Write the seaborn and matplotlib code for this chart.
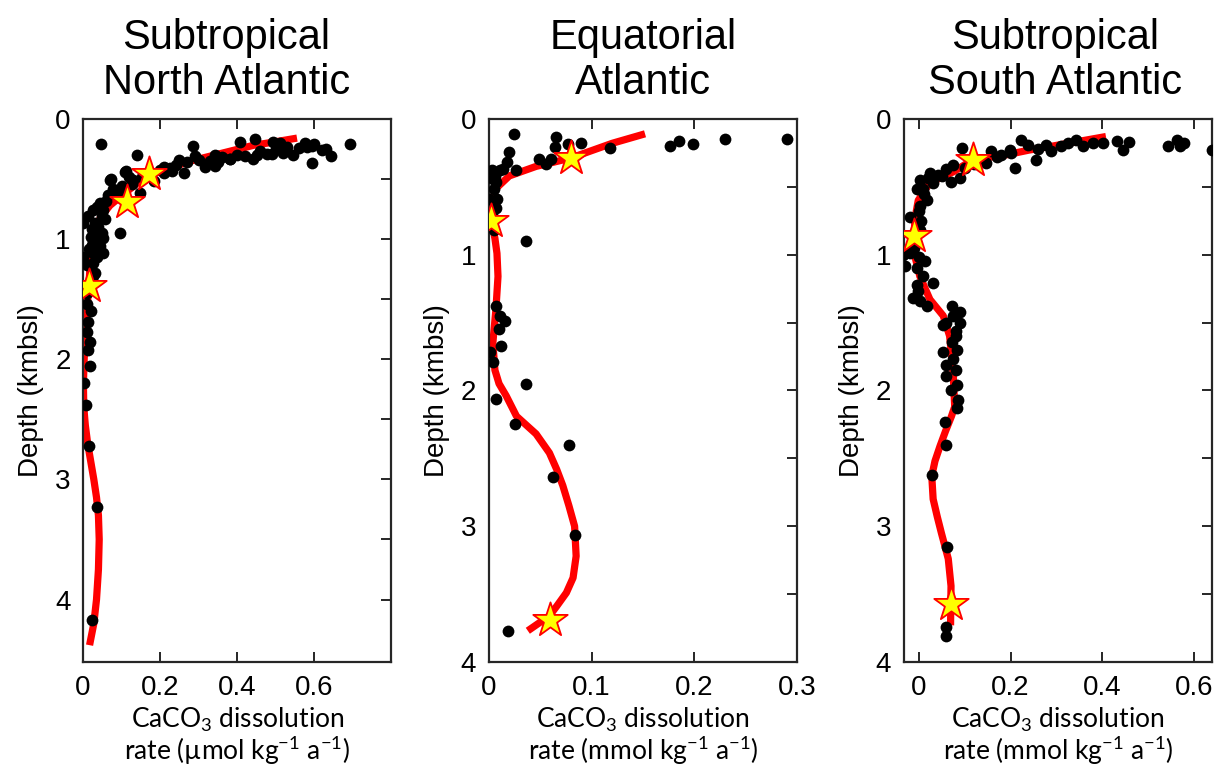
import matplotlib
matplotlib.use("Agg")
import matplotlib.pyplot as plt
from matplotlib.ticker import FixedLocator, FormatStrFormatter
import pandas as pd
import seaborn as sns

# ---- data (x = dissolution rate, d = depth in km) ----
titles = ["Subtropical\nNorth Atlantic", "Equatorial\nAtlantic", "Subtropical\nSouth Atlantic"]
units = ["\u00b5mol", "mmol", "mmol"]
xticks = [[0, 0.2, 0.4, 0.6], [0, 0.1, 0.2, 0.3], [0, 0.2, 0.4, 0.6]]
yticks = [0, 1, 2, 3, 4]
yticks_minor = [0.5, 1.5, 2.5, 3.5]

na_dot_x = [0.046, 0.139, 0.284, 0.406, 0.445, 0.494, 0.512, 0.577, 0.595, 0.693, 0.630, 0.642,
            0.594, 0.519, 0.545, 0.476, 0.441, 0.382, 0.343, 0.343, 0.317, 0.291, 0.261, 0.248,
            0.226, 0.200, 0.330, 0.360, 0.400, 0.420, 0.460, 0.500, 0.530, 0.560, 0.580, 0.600,
            0.620, 0.270, 0.300, 0.210, 0.230, 0.240, 0.350, 0.380, 0.450, 0.490, 0.520,
            0.209, 0.183, 0.152, 0.118, 0.109, 0.126, 0.100, 0.148, 0.130, 0.073, 0.070, 0.079,
            0.066, 0.112, 0.096,
            0.000, 0.014, 0.027, 0.036, 0.044, 0.053, 0.048, 0.057, 0.031, 0.040, 0.023, 0.048,
            0.053, 0.031, 0.023, 0.044, 0.053, 0.027, 0.000, 0.010, 0.027, 0.027, 0.035, 0.020,
            0.040, 0.015, 0.035, 0.060, 0.085, 0.090, 0.020, 0.010, 0.030,
            0.010, 0.020, 0.014, 0.010, 0.017, 0.014, 0.017, 0.003, 0.008, 0.016, 0.036, 0.023]
na_dot_d = [0.21, 0.30, 0.225, 0.19, 0.17, 0.19, 0.20, 0.20, 0.225, 0.21, 0.25, 0.31,
            0.37, 0.28, 0.30, 0.29, 0.33, 0.336, 0.30, 0.39, 0.40, 0.31, 0.45, 0.34,
            0.41, 0.425, 0.35, 0.32, 0.30, 0.31, 0.27, 0.25, 0.23, 0.24, 0.23, 0.21,
            0.26, 0.36, 0.34, 0.40, 0.43, 0.38, 0.36, 0.33, 0.30, 0.29, 0.26,
            0.45, 0.52, 0.48, 0.48, 0.44, 0.54, 0.56, 0.62, 0.51, 0.50, 0.51, 0.58,
            0.63, 0.43, 0.95,
            0.87, 0.81, 0.76, 0.73, 0.70, 0.76, 0.81, 0.83, 0.87, 0.90, 0.92, 0.95,
            0.99, 1.01, 1.05, 1.06, 1.12, 1.12, 1.15, 1.22, 1.20, 1.31, 0.97, 0.98,
            1.03, 1.08, 1.15, 0.68, 0.62, 0.60, 1.35, 1.45, 1.28,
            1.54, 1.60, 1.69, 1.77, 1.86, 1.92, 2.06, 2.20, 2.38, 2.72, 3.23, 4.17]
na_star_x = [0.170, 0.113, 0.015]
na_star_d = [0.458, 0.69, 1.39]
na_fit_x = [0.555, 0.50, 0.442, 0.38, 0.33, 0.28, 0.243, 0.20, 0.17, 0.135, 0.10, 0.07, 0.045,
            0.03, 0.021, 0.015, 0.010, 0.006, 0.003, 0.001, 0.002, 0.006, 0.012, 0.020, 0.028,
            0.035, 0.040, 0.042, 0.040, 0.035, 0.028, 0.017]
na_fit_d = [0.16, 0.19, 0.22, 0.27, 0.31, 0.35, 0.39, 0.43, 0.46, 0.55, 0.64, 0.72, 0.82,
            0.95, 1.10, 1.39, 1.60, 1.80, 2.00, 2.20, 2.40, 2.55, 2.70, 2.85, 3.00,
            3.15, 3.30, 3.50, 3.75, 4.00, 4.20, 4.38]

eq_dot_x = [0.0243, 0.0657, 0.064, 0.077, 0.0893, 0.118, 0.176, 0.185, 0.199, 0.230, 0.290,
            0.0197, 0.0178, 0.0269, 0.0489, 0.0553, 0.0609, 0.003, 0.011, 0.014, 0.007, 0.0,
            0.008, 0.005, 0.007, 0.005, 0.0366, 0.007, 0.011, 0.0155, 0.010, 0.012, 0.001,
            0.004, 0.036, 0.0075, 0.0252, 0.078, 0.0625, 0.0835, 0.0188, 0.006, 0.003, 0.004]
eq_dot_d = [0.11, 0.135, 0.21, 0.186, 0.174, 0.216, 0.199, 0.166, 0.184, 0.149, 0.149,
            0.247, 0.32, 0.375, 0.296, 0.33, 0.296, 0.375, 0.38, 0.37, 0.468, 0.59,
            0.59, 0.52, 0.657, 0.82, 0.90, 1.375, 1.45, 1.49, 1.55, 1.67, 1.72,
            1.79, 1.955, 2.06, 2.245, 2.40, 2.64, 3.066, 3.77, 0.42, 0.70, 0.44]
eq_star_x = [0.0796, 0.0026, 0.0592]
eq_star_d = [0.289, 0.75, 3.69]
eq_fit_x = [0.152, 0.12, 0.0796, 0.046, 0.02, 0.006, 0.0026, 0.006, 0.008, 0.009, 0.007, 0.004,
            0.006, 0.010, 0.017, 0.027, 0.046, 0.059, 0.066, 0.072, 0.078, 0.0835, 0.085,
            0.082, 0.0755, 0.066, 0.059, 0.038]
eq_fit_d = [0.11, 0.18, 0.289, 0.35, 0.42, 0.52, 0.75, 0.88, 0.99, 1.16, 1.40, 1.65,
            1.85, 1.95, 2.04, 2.19, 2.32, 2.46, 2.58, 2.70, 2.85, 3.00, 3.22,
            3.38, 3.49, 3.59, 3.66, 3.77]

sa_dot_x = [0.093, 0.223, 0.238, 0.256, 0.278, 0.288, 0.325, 0.343, 0.357, 0.402, 0.433, 0.446,
            0.459, 0.544, 0.564, 0.570, 0.578, 0.640, 0.210, 0.158, 0.180, 0.198, 0.147, 0.136,
            0.089, 0.071, 0.060, 0.075, 0.042, 0.024, 0.020, 0.002, -0.005, 0.009, 0.017, 0.002,
            -0.020, 0.002, -0.034, -0.030, -0.020, -0.005, 0.013, 0.009, 0.030, -0.005, -0.001,
            -0.012, 0.002, 0.017, 0.073, 0.075, 0.060, 0.052, 0.089, 0.080, 0.073, 0.082, 0.052,
            0.060, 0.059, 0.082, 0.086, 0.083, 0.057, 0.059, 0.029, 0.062, 0.060, 0.060,
            0.26, 0.20, 0.17, 0.12, 0.10, 0.05, 0.03, 0.01, 0.0, 0.005, -0.01, 0.0, 0.09, 0.08,
            0.075, 0.08, 0.07, 0.31, 0.38]
sa_dot_d = [0.211, 0.154, 0.191, 0.301, 0.191, 0.233, 0.179, 0.154, 0.199, 0.174, 0.162, 0.228,
            0.171, 0.199, 0.154, 0.199, 0.174, 0.228, 0.363, 0.24, 0.265, 0.228, 0.326, 0.30,
            0.436, 0.468, 0.37, 0.34, 0.41, 0.40, 0.436, 0.45, 0.52, 0.52, 0.60, 0.645,
            0.72, 0.82, 1.00, 1.08, 0.99, 1.10, 1.05, 1.16, 1.21, 1.22, 1.27,
            1.32, 1.34, 1.375, 1.38, 1.45, 1.50, 1.52, 1.50, 1.56, 1.64, 1.70, 1.72,
            1.81, 1.89, 1.96, 2.07, 2.13, 2.23, 2.40, 2.62, 3.15, 3.74, 3.81,
            0.22, 0.25, 0.28, 0.33, 0.36, 0.42, 0.47, 0.55, 0.68, 0.75, 0.95, 1.02, 1.42, 1.60,
            1.77, 1.85, 2.00, 0.20, 0.18]
sa_star_x = [0.118, -0.010, 0.071]
sa_star_d = [0.30, 0.865, 3.57]
sa_fit_x = [0.408, 0.35, 0.292, 0.24, 0.19, 0.118, 0.075, 0.024, -0.0015, -0.009, -0.010, -0.009,
            0.002, 0.024, 0.053, 0.067, 0.075, 0.078, 0.071, 0.058, 0.046, 0.035, 0.028, 0.031,
            0.040, 0.049, 0.064, 0.070, 0.069]
sa_fit_d = [0.13, 0.165, 0.20, 0.23, 0.265, 0.30, 0.39, 0.47, 0.60, 0.74, 0.865, 1.01,
            1.16, 1.33, 1.45, 1.60, 1.89, 2.12, 2.19, 2.30, 2.41, 2.52, 2.63, 2.80,
            2.93, 3.05, 3.24, 3.44, 3.73]

panels = [
    (na_dot_x, na_dot_d, na_star_x, na_star_d, na_fit_x, na_fit_d),
    (eq_dot_x, eq_dot_d, eq_star_x, eq_star_d, eq_fit_x, eq_fit_d),
    (sa_dot_x, sa_dot_d, sa_star_x, sa_star_d, sa_fit_x, sa_fit_d),
]
xlims = [(0, 0.8), (0, 0.3), (-0.033, 0.64)]
ylims = [(4.52, 0), (4, 0), (4, 0)]
lefts = [0.0676, 0.398, 0.736]
title_x = [0.465, 0.5, 0.49]

sns.set_theme(style="ticks")
plt.rcParams["font.family"] = ["Liberation Sans", "DejaVu Sans"]
plt.rcParams["mathtext.fontset"] = "custom"
plt.rcParams["mathtext.rm"] = "Lato"
plt.rcParams["mathtext.it"] = "Lato:italic"
plt.rcParams["mathtext.default"] = "rm"
for key in ["text.color", "axes.labelcolor", "xtick.labelcolor", "ytick.labelcolor"]:
    plt.rcParams[key] = "black"

fig = plt.figure(figsize=(12.28, 7.77), dpi=100)

for i, (dx, dd, sx, sd, fx, fd) in enumerate(panels):
    ax = fig.add_axes([lefts[i], 0.148, 0.2512, 0.699])

    fit = pd.DataFrame({"x": fx, "d": fd})
    dots = pd.DataFrame({"x": dx, "d": dd})
    stars = pd.DataFrame({"x": sx, "d": sd})

    sns.lineplot(data=fit, x="x", y="d", sort=False, estimator=None, color="#ff0000",
                 lw=5.2, solid_capstyle="butt", solid_joinstyle="round", ax=ax, zorder=2)
    sns.scatterplot(data=dots, x="x", y="d", color="black", s=72, linewidth=0, ax=ax, zorder=3)
    sns.scatterplot(data=stars, x="x", y="d", marker="*", color="#ffff00", edgecolor="#ff0000",
                    linewidth=1.3, s=680, ax=ax, zorder=4)

    ax.set_xlim(*xlims[i])
    ax.set_ylim(*ylims[i])
    ax.set_xticks(xticks[i])
    ax.xaxis.set_major_formatter(FormatStrFormatter("%g"))
    ax.yaxis.set_major_locator(FixedLocator(yticks))
    ax.yaxis.set_minor_locator(FixedLocator(yticks_minor))

    ax.tick_params(axis="x", which="major", direction="in", top=True, bottom=True,
                   length=7, width=1.4, color="#262626", labelsize=20, pad=9)
    ax.tick_params(axis="y", which="both", direction="in", left=False, right=True,
                   labelleft=True, length=7, width=1.4, color="#262626", labelsize=20, pad=9)
    for sp in ax.spines.values():
        sp.set_visible(True)
        sp.set_color("#262626")
        sp.set_linewidth(1.6)

    ax.set_title(titles[i], fontsize=30, pad=18, linespacing=1.15, x=title_x[i])
    ax.set_ylabel("Depth (kmbsl)", fontsize=20, labelpad=8)
    ax.set_xlabel("CaCO$_3$ dissolution\nrate (" + units[i] + " kg$^{-1}$ a$^{-1}$)",
                  fontsize=19, family=["Lato", "DejaVu Sans"], labelpad=4, linespacing=1.0)

fig.savefig("out.png", dpi=100)
